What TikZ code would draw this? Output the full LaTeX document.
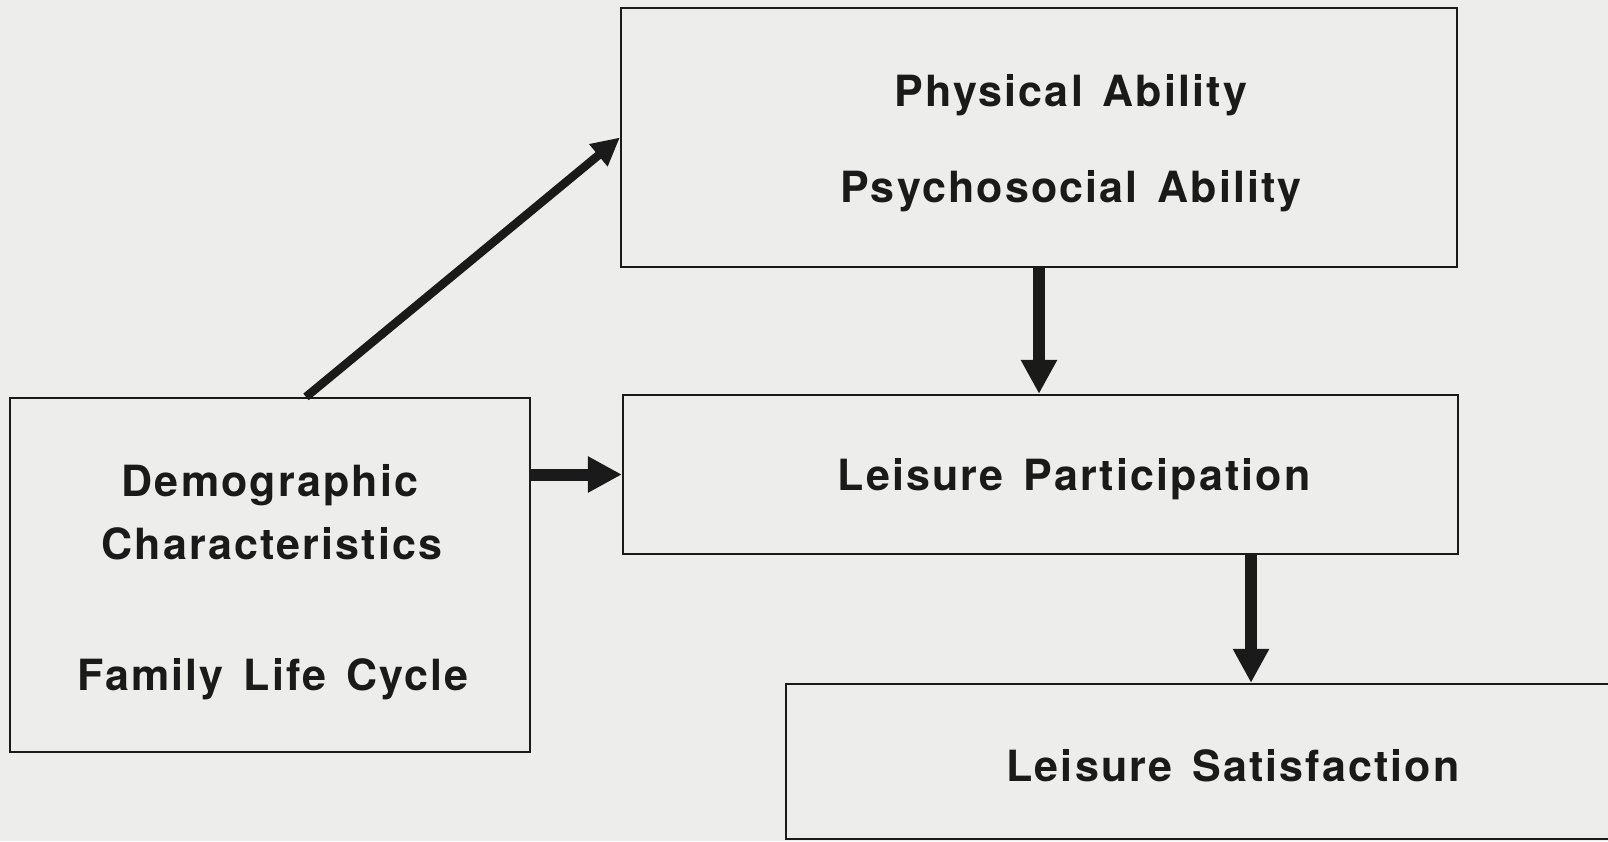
\documentclass[tikz,border=0pt]{standalone}
\usepackage{fontspec}
\setmainfont{TeX Gyre Heros}[LetterSpace=5,WordSpace=1.4]
\usetikzlibrary{arrows.meta}
\definecolor{paper}{HTML}{EDEDEB}
\definecolor{ink}{HTML}{1A1A1A}
\begin{document}
\begin{tikzpicture}[x=1pt,y=-1pt,
  box/.style={draw=ink,line width=2.2pt,fill=paper,minimum width=#1,inner sep=0pt},
  lbl/.style={text=ink,font=\fontsize{43}{50}\selectfont\bfseries,anchor=base,inner sep=0pt},
  bigarrow/.style={draw=ink,line width=12pt,-{Triangle[length=34pt,width=34pt]}},
  thinarrow/.style={draw=ink,line width=8.5pt,-{Triangle[length=28pt,width=27pt]}}]
\fill[paper] (0,0) rectangle (1608,841);
\clip (0,0) rectangle (1608,841);
\node[box=836pt,minimum height=259pt] (top) at (1039,137.5) {};
\node[box=835pt,minimum height=159pt] (mid) at (1040.5,474.5) {};
\node[box=520pt,minimum height=354pt] (left) at (270,575) {};
\node[box=854pt,minimum height=155pt] (bot) at (1213,761.5) {};
\node[lbl] (t1) at (1071,106) {Physical Ability};
\node[lbl] (t2) at (1071,202) {Psychosocial Ability};
\node[lbl] (t3) at (1074,490) {Leisure Participation};
\node[lbl] (t4) at (270,496) {Demographic};
\node[lbl] (t5) at (272,559) {Characteristics};
\node[lbl] (t6) at (273,690) {Family Life Cycle};
\node[lbl] (t7) at (1233,781) {Leisure Satisfaction};
\coordinate (c1) at (306,0);
\coordinate (c2) at (1251,0);
\draw[thinarrow] (left.north -| c1) -- (top.west);
\draw[bigarrow] (left.east |- mid.west) -- (mid.west);
\draw[bigarrow] (top.south) -- (top.south |- mid.north);
\draw[bigarrow] (mid.south -| c2) -- (bot.north -| c2);
\end{tikzpicture}
\end{document}
